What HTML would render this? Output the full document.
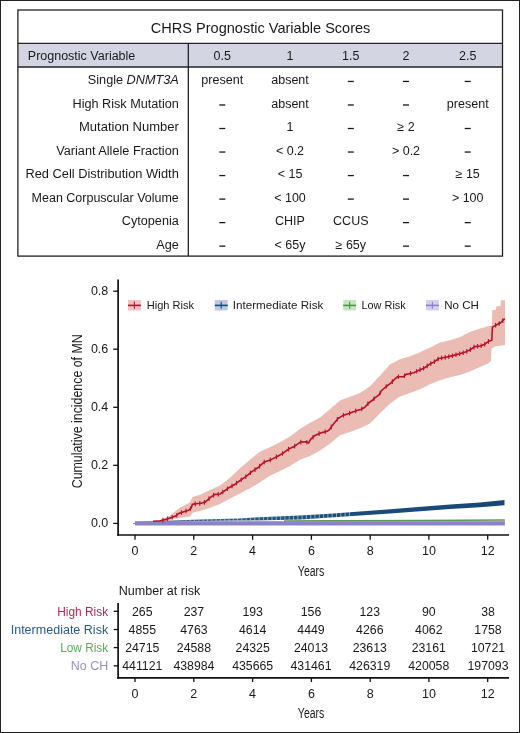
<!DOCTYPE html>
<html><head><meta charset="utf-8"><style>
html,body{margin:0;padding:0;background:#fff;}
svg{display:block;font-family:"Liberation Sans", sans-serif;will-change:transform;}
</style></head><body>
<svg width="520" height="733" viewBox="0 0 520 733">
<rect x="0.5" y="0.5" width="519" height="732" fill="none" stroke="#222" stroke-width="1"/>
<rect x="17.9" y="43.3" width="484.6" height="23.700000000000003" fill="#d3d5e3"/>
<rect x="17.9" y="10.0" width="484.6" height="246.10000000000002" fill="none" stroke="#222" stroke-width="1.3"/>
<line x1="17.9" y1="43.3" x2="502.5" y2="43.3" stroke="#222" stroke-width="1.3"/>
<line x1="17.9" y1="67.0" x2="502.5" y2="67.0" stroke="#222" stroke-width="1.3"/>
<line x1="188.3" y1="43.3" x2="188.3" y2="256.1" stroke="#222" stroke-width="1.3"/>
<text x="260.6" y="32.5" font-size="15" text-anchor="middle" fill="#1a1a1a" textLength="219.6" lengthAdjust="spacingAndGlyphs">CHRS Prognostic Variable Scores</text>
<text x="27.8" y="59.8" font-size="12.5" fill="#1a1a1a" textLength="107.5" lengthAdjust="spacingAndGlyphs">Prognostic Variable</text>
<text x="222.3" y="59.8" font-size="12.5" text-anchor="middle" fill="#1a1a1a">0.5</text>
<text x="290.0" y="59.8" font-size="12.5" text-anchor="middle" fill="#1a1a1a">1</text>
<text x="350.8" y="59.8" font-size="12.5" text-anchor="middle" fill="#1a1a1a">1.5</text>
<text x="406.0" y="59.8" font-size="12.5" text-anchor="middle" fill="#1a1a1a">2</text>
<text x="467.7" y="59.8" font-size="12.5" text-anchor="middle" fill="#1a1a1a">2.5</text>
<text x="178.8" y="84.0" font-size="12.5" text-anchor="end" fill="#1a1a1a" textLength="91" lengthAdjust="spacingAndGlyphs">Single <tspan font-style="italic">DNMT3A</tspan></text>
<text x="222.3" y="84.0" font-size="12.5" text-anchor="middle" fill="#1a1a1a" textLength="42" lengthAdjust="spacingAndGlyphs">present</text>
<text x="290.0" y="84.0" font-size="12.5" text-anchor="middle" fill="#1a1a1a">absent</text>
<rect x="347.8" y="80.80" width="6" height="1.3" fill="#1a1a1a"/>
<rect x="403.0" y="80.80" width="6" height="1.3" fill="#1a1a1a"/>
<rect x="464.7" y="80.80" width="6" height="1.3" fill="#1a1a1a"/>
<text x="178.8" y="107.53" font-size="12.5" text-anchor="end" fill="#1a1a1a" textLength="106.3" lengthAdjust="spacingAndGlyphs">High Risk Mutation</text>
<rect x="219.3" y="104.33" width="6" height="1.3" fill="#1a1a1a"/>
<text x="290.0" y="107.53" font-size="12.5" text-anchor="middle" fill="#1a1a1a">absent</text>
<rect x="347.8" y="104.33" width="6" height="1.3" fill="#1a1a1a"/>
<rect x="403.0" y="104.33" width="6" height="1.3" fill="#1a1a1a"/>
<text x="467.7" y="107.53" font-size="12.5" text-anchor="middle" fill="#1a1a1a" textLength="42" lengthAdjust="spacingAndGlyphs">present</text>
<text x="178.8" y="131.06" font-size="12.5" text-anchor="end" fill="#1a1a1a" textLength="99.8" lengthAdjust="spacingAndGlyphs">Mutation Number</text>
<rect x="219.3" y="127.86" width="6" height="1.3" fill="#1a1a1a"/>
<text x="290.0" y="131.06" font-size="12.5" text-anchor="middle" fill="#1a1a1a">1</text>
<rect x="347.8" y="127.86" width="6" height="1.3" fill="#1a1a1a"/>
<text x="406.0" y="131.06" font-size="12.5" text-anchor="middle" fill="#1a1a1a">&#8805; 2</text>
<rect x="464.7" y="127.86" width="6" height="1.3" fill="#1a1a1a"/>
<text x="178.8" y="154.59" font-size="12.5" text-anchor="end" fill="#1a1a1a" textLength="122.6" lengthAdjust="spacingAndGlyphs">Variant Allele Fraction</text>
<rect x="219.3" y="151.39" width="6" height="1.3" fill="#1a1a1a"/>
<text x="290.0" y="154.59" font-size="12.5" text-anchor="middle" fill="#1a1a1a">&lt; 0.2</text>
<rect x="347.8" y="151.39" width="6" height="1.3" fill="#1a1a1a"/>
<text x="406.0" y="154.59" font-size="12.5" text-anchor="middle" fill="#1a1a1a">&gt; 0.2</text>
<rect x="464.7" y="151.39" width="6" height="1.3" fill="#1a1a1a"/>
<text x="178.8" y="178.12" font-size="12.5" text-anchor="end" fill="#1a1a1a" textLength="153.4" lengthAdjust="spacingAndGlyphs">Red Cell Distribution Width</text>
<rect x="219.3" y="174.92" width="6" height="1.3" fill="#1a1a1a"/>
<text x="290.0" y="178.12" font-size="12.5" text-anchor="middle" fill="#1a1a1a">&lt; 15</text>
<rect x="347.8" y="174.92" width="6" height="1.3" fill="#1a1a1a"/>
<rect x="403.0" y="174.92" width="6" height="1.3" fill="#1a1a1a"/>
<text x="467.7" y="178.12" font-size="12.5" text-anchor="middle" fill="#1a1a1a">&#8805; 15</text>
<text x="178.8" y="201.65" font-size="12.5" text-anchor="end" fill="#1a1a1a" textLength="147.2" lengthAdjust="spacingAndGlyphs">Mean Corpuscular Volume</text>
<rect x="219.3" y="198.45" width="6" height="1.3" fill="#1a1a1a"/>
<text x="290.0" y="201.65" font-size="12.5" text-anchor="middle" fill="#1a1a1a">&lt; 100</text>
<rect x="347.8" y="198.45" width="6" height="1.3" fill="#1a1a1a"/>
<rect x="403.0" y="198.45" width="6" height="1.3" fill="#1a1a1a"/>
<text x="467.7" y="201.65" font-size="12.5" text-anchor="middle" fill="#1a1a1a">&gt; 100</text>
<text x="178.8" y="225.18" font-size="12.5" text-anchor="end" fill="#1a1a1a" textLength="57" lengthAdjust="spacingAndGlyphs">Cytopenia</text>
<rect x="219.3" y="221.98" width="6" height="1.3" fill="#1a1a1a"/>
<text x="290.0" y="225.18" font-size="12.5" text-anchor="middle" fill="#1a1a1a">CHIP</text>
<text x="350.8" y="225.18" font-size="12.5" text-anchor="middle" fill="#1a1a1a">CCUS</text>
<rect x="403.0" y="221.98" width="6" height="1.3" fill="#1a1a1a"/>
<rect x="464.7" y="221.98" width="6" height="1.3" fill="#1a1a1a"/>
<text x="178.8" y="248.71" font-size="12.5" text-anchor="end" fill="#1a1a1a" textLength="22.6" lengthAdjust="spacingAndGlyphs">Age</text>
<rect x="219.3" y="245.51" width="6" height="1.3" fill="#1a1a1a"/>
<text x="290.0" y="248.71" font-size="12.5" text-anchor="middle" fill="#1a1a1a">&lt; 65y</text>
<text x="350.8" y="248.71" font-size="12.5" text-anchor="middle" fill="#1a1a1a">&#8805; 65y</text>
<rect x="403.0" y="245.51" width="6" height="1.3" fill="#1a1a1a"/>
<rect x="464.7" y="245.51" width="6" height="1.3" fill="#1a1a1a"/>
<line x1="118.1" y1="279.5" x2="118.1" y2="535.8" stroke="#111" stroke-width="1.7"/>
<line x1="117.3" y1="535.0" x2="509" y2="535.0" stroke="#111" stroke-width="1.7"/>
<line x1="113.2" y1="523.4" x2="118.1" y2="523.4" stroke="#111" stroke-width="1.3"/>
<text x="108.3" y="527.4" font-size="12.5" text-anchor="end" fill="#1a1a1a">0.0</text>
<line x1="113.2" y1="465.3" x2="118.1" y2="465.3" stroke="#111" stroke-width="1.3"/>
<text x="108.3" y="469.3" font-size="12.5" text-anchor="end" fill="#1a1a1a">0.2</text>
<line x1="113.2" y1="407.3" x2="118.1" y2="407.3" stroke="#111" stroke-width="1.3"/>
<text x="108.3" y="411.3" font-size="12.5" text-anchor="end" fill="#1a1a1a">0.4</text>
<line x1="113.2" y1="349.2" x2="118.1" y2="349.2" stroke="#111" stroke-width="1.3"/>
<text x="108.3" y="353.2" font-size="12.5" text-anchor="end" fill="#1a1a1a">0.6</text>
<line x1="113.2" y1="291.2" x2="118.1" y2="291.2" stroke="#111" stroke-width="1.3"/>
<text x="108.3" y="295.2" font-size="12.5" text-anchor="end" fill="#1a1a1a">0.8</text>
<line x1="135.0" y1="535.0" x2="135.0" y2="539.8" stroke="#111" stroke-width="1.3"/>
<text x="135.0" y="555.0" font-size="12.5" text-anchor="middle" fill="#1a1a1a">0</text>
<line x1="193.8" y1="535.0" x2="193.8" y2="539.8" stroke="#111" stroke-width="1.3"/>
<text x="193.8" y="555.0" font-size="12.5" text-anchor="middle" fill="#1a1a1a">2</text>
<line x1="252.6" y1="535.0" x2="252.6" y2="539.8" stroke="#111" stroke-width="1.3"/>
<text x="252.6" y="555.0" font-size="12.5" text-anchor="middle" fill="#1a1a1a">4</text>
<line x1="311.4" y1="535.0" x2="311.4" y2="539.8" stroke="#111" stroke-width="1.3"/>
<text x="311.4" y="555.0" font-size="12.5" text-anchor="middle" fill="#1a1a1a">6</text>
<line x1="370.2" y1="535.0" x2="370.2" y2="539.8" stroke="#111" stroke-width="1.3"/>
<text x="370.2" y="555.0" font-size="12.5" text-anchor="middle" fill="#1a1a1a">8</text>
<line x1="428.9" y1="535.0" x2="428.9" y2="539.8" stroke="#111" stroke-width="1.3"/>
<text x="428.9" y="555.0" font-size="12.5" text-anchor="middle" fill="#1a1a1a">10</text>
<line x1="487.7" y1="535.0" x2="487.7" y2="539.8" stroke="#111" stroke-width="1.3"/>
<text x="487.7" y="555.0" font-size="12.5" text-anchor="middle" fill="#1a1a1a">12</text>
<text x="311.1" y="575.5" font-size="14" text-anchor="middle" fill="#1a1a1a" textLength="26.5" lengthAdjust="spacingAndGlyphs">Years</text>
<g transform="translate(82.3,411.3) rotate(-90)"><text x="0" y="0" font-size="14" text-anchor="middle" fill="#1a1a1a" textLength="154" lengthAdjust="spacingAndGlyphs">Cumulative incidence of MN</text></g>
<polygon points="158.0,521.5 165.0,518.0 170.0,515.4 180.0,507.7 190.0,502.3 192.5,497.0 200.0,494.8 210.0,490.0 220.0,485.4 230.0,477.7 240.0,468.3 250.0,459.8 260.0,451.5 270.0,447.3 280.0,442.3 290.0,436.5 300.0,429.0 310.0,422.7 320.0,417.6 330.0,409.3 340.0,400.5 350.0,396.7 360.0,392.9 370.0,386.2 380.0,375.5 390.0,364.6 400.0,359.3 410.0,356.3 420.0,352.2 430.0,347.5 440.0,342.4 450.0,340.3 460.0,337.0 470.0,332.1 480.0,328.6 488.0,326.3 491.8,325.4 492.2,310.1 496.0,309.8 496.3,306.2 500.5,306.0 500.8,300.3 505.0,300.3 505.0,345.0 496.0,346.2 491.5,348.6 491.0,361.0 488.0,363.4 480.0,366.9 470.0,371.6 460.0,375.0 450.0,377.2 440.0,380.2 430.0,384.3 420.0,389.3 410.0,393.1 400.0,396.4 390.0,403.5 380.0,413.2 370.0,423.5 360.0,428.2 350.0,432.0 340.0,435.2 330.0,443.7 320.0,450.4 310.0,456.1 300.0,459.8 290.0,466.0 280.0,470.9 270.0,475.8 260.0,482.3 250.0,488.3 240.0,493.4 230.0,498.6 220.0,503.9 210.0,507.8 200.0,511.0 193.0,512.4 190.0,516.4 180.0,517.9 170.0,519.8 160.0,523.0" fill="#ebbcb3"/>
<defs><linearGradient id="bg" gradientUnits="userSpaceOnUse" x1="135" y1="0" x2="505" y2="0"><stop offset="0" stop-color="#4d7393"/><stop offset="0.3" stop-color="#2a5a82"/><stop offset="0.55" stop-color="#1b4c7c"/><stop offset="1" stop-color="#174777"/></linearGradient></defs>
<polygon points="135.0,521.9 160.0,521.0 200.0,519.6 240.0,518.4 250.0,517.8 300.0,515.6 330.0,513.8 390.0,509.2 450.0,504.4 480.0,502.5 504.5,500.1 504.5,505.3 480.0,507.3 450.0,509.0 390.0,513.4 330.0,517.6 300.0,519.4 250.0,520.5 240.0,520.6 200.0,521.1 160.0,522.2 135.0,523.1" fill="url(#bg)"/>
<path d="M186.0 519.8v2.0M190.3 519.7v2.1M194.6 519.5v2.1M198.9 519.4v2.1M203.2 519.2v2.2M207.5 519.1v2.2M211.8 519.0v2.3M216.1 518.8v2.4M220.4 518.7v2.5M224.7 518.6v2.5M229.0 518.4v2.6M233.3 518.3v2.7M237.6 518.2v2.8M241.9 518.0v2.9M246.2 517.7v3.1M250.5 517.4v3.3M254.8 517.2v3.4M259.1 517.1v3.5M263.4 516.9v3.6M267.7 516.7v3.7M272.0 516.5v3.8M276.3 516.3v3.9M280.6 516.1v4.0M284.9 515.9v4.1M289.2 515.8v4.2M293.5 515.6v4.3M297.8 515.4v4.4M302.1 515.2v4.4M306.4 514.9v4.4M310.7 514.7v4.4M315.0 514.4v4.4M319.3 514.1v4.4M323.6 513.9v4.4M327.9 513.6v4.4M332.2 513.3v4.4M336.5 513.0v4.4M340.8 512.7v4.5M345.1 512.3v4.5M349.4 512.0v4.5" stroke="#c4d3e2" stroke-width="0.9" stroke-opacity="0.75" fill="none"/>
<polyline points="284.0,521.0 330.0,520.8 420.0,520.5 504.8,520.1" fill="none" stroke="#5c9a5a" stroke-width="1.5"/>
<rect x="134.9" y="521.2" width="370" height="4.3" fill="#8c83c5"/>
<line x1="133" y1="523.5" x2="135" y2="523.5" stroke="#8d84c7" stroke-width="1"/>
<polyline points="153.0,521.2 160.0,520.8 165.8,519.4 171.5,517.6 176.2,515.8 178.5,513.5 183.1,511.9 188.8,510.2 191.2,507.9 192.3,504.4 195.8,503.8 200.8,503.3 205.0,502.3 209.6,498.1 214.2,494.6 220.0,494.0 228.1,488.3 235.0,484.2 239.6,480.8 246.5,476.2 251.2,472.1 258.1,467.5 263.8,462.3 271.5,459.4 277.3,456.5 283.1,453.1 288.8,449.0 294.6,446.2 300.4,442.1 306.2,441.8 308.5,443.0 310.8,439.2 315.4,435.2 320.8,432.9 326.5,431.5 329.2,430.0 332.3,425.4 336.2,420.8 338.1,418.5 342.7,415.6 349.6,413.3 355.4,411.0 361.2,409.2 364.6,407.5 368.1,403.5 372.7,400.0 374.6,398.1 379.2,394.6 381.5,390.6 386.2,386.5 390.8,383.1 395.4,378.5 397.7,376.7 403.5,376.7 405.8,374.4 413.8,372.7 418.5,370.4 424.2,368.1 429.6,364.2 434.2,361.9 438.8,358.5 445.8,357.3 452.7,355.6 459.6,353.8 465.4,352.1 471.2,349.2 474.6,346.6 480.4,346.0 484.2,344.6 488.6,341.3 491.8,340.2 492.4,327.1 496.2,325.0 500.6,322.8 503.9,319.5 505.0,318.9" fill="none" stroke="#b8122a" stroke-width="1.6" stroke-linejoin="round"/>
<path d="M163.0 517.8v4.6M167.6 516.5v4.6M172.2 515.0v4.6M176.8 512.9v4.6M181.4 510.2v4.6M186.0 508.7v4.6M190.6 506.2v4.6M195.2 501.6v4.6M199.8 501.1v4.6M204.4 500.1v4.6M209.0 496.3v4.6M213.6 492.8v4.6M218.2 491.9v4.6M222.8 489.7v4.6M227.4 486.5v4.6M232.0 483.7v4.6M236.6 480.7v4.6M241.2 477.4v4.6M245.8 474.4v4.6M250.4 470.5v4.6M255.0 467.3v4.6M259.6 463.8v4.6M264.2 459.8v4.6M270.3 457.6v4.6M276.4 454.6v4.6M282.5 451.2v4.6M288.6 446.8v4.6M294.7 443.8v4.6M300.8 439.8v4.6M306.9 439.9v4.6M313.0 435.0v4.6M319.1 431.3v4.6M325.2 429.5v4.6M331.3 424.6v4.6M337.4 417.0v4.6M343.5 413.0v4.6M349.6 411.0v4.6M355.7 408.6v4.6M361.8 406.6v4.6M367.9 401.4v4.6M374.0 396.4v4.6M380.1 390.7v4.6M386.2 384.2v4.6M392.3 379.3v4.6M398.4 374.4v4.6M404.5 373.4v4.6M410.6 371.1v4.6M416.7 369.0v4.6M420.0 367.5v4.6M423.6 366.0v4.6M427.2 363.6v4.6M430.8 361.3v4.6M434.4 359.5v4.6M438.0 356.8v4.6M441.6 355.7v4.6M445.2 355.1v4.6M448.8 354.3v4.6M452.4 353.4v4.6M456.0 352.4v4.6M459.6 351.5v4.6M463.2 350.4v4.6M466.8 349.1v4.6M470.4 347.3v4.6M474.0 344.8v4.6M477.6 344.0v4.6M481.2 343.4v4.6M484.8 341.8v4.6M488.4 339.1v4.6M495.6 323.0v4.6M499.2 321.2v4.6M502.8 318.3v4.6" stroke="#b8122a" stroke-width="1.1" fill="none"/>
<rect x="128" y="300" width="12.9" height="10.5" fill="#f2c2c2"/><line x1="128" y1="305.4" x2="140.9" y2="305.4" stroke="#b5142b" stroke-width="1.6"/><line x1="134.4" y1="301.7" x2="134.4" y2="308.8" stroke="#b5142b" stroke-width="1.1"/><text x="146.7" y="308.6" font-size="11.2" fill="#1a1a1a" textLength="47.3" lengthAdjust="spacingAndGlyphs">High Risk</text>
<rect x="214.8" y="300" width="12.9" height="10.5" fill="#bfc8dc"/><line x1="214.8" y1="305.4" x2="227.70000000000002" y2="305.4" stroke="#174a7e" stroke-width="1.6"/><line x1="221.20000000000002" y1="301.7" x2="221.20000000000002" y2="308.8" stroke="#174a7e" stroke-width="1.1"/><text x="232.8" y="308.6" font-size="11.2" fill="#1a1a1a" textLength="90.5" lengthAdjust="spacingAndGlyphs">Intermediate Risk</text>
<rect x="343.2" y="300" width="12.9" height="10.5" fill="#c6e4c0"/><line x1="343.2" y1="305.4" x2="356.09999999999997" y2="305.4" stroke="#4a9a46" stroke-width="1.6"/><line x1="349.59999999999997" y1="301.7" x2="349.59999999999997" y2="308.8" stroke="#4a9a46" stroke-width="1.1"/><text x="361.4" y="308.6" font-size="11.2" fill="#1a1a1a" textLength="44.4" lengthAdjust="spacingAndGlyphs">Low Risk</text>
<rect x="426" y="300" width="12.9" height="10.5" fill="#d2d0ec"/><line x1="426" y1="305.4" x2="438.9" y2="305.4" stroke="#8c84c6" stroke-width="1.6"/><line x1="432.4" y1="301.7" x2="432.4" y2="308.8" stroke="#8c84c6" stroke-width="1.1"/><text x="444.2" y="308.6" font-size="11.2" fill="#1a1a1a" textLength="34.6" lengthAdjust="spacingAndGlyphs">No CH</text>
<text x="118.7" y="595.1" font-size="12.5" fill="#1a1a1a" textLength="81.7" lengthAdjust="spacingAndGlyphs">Number at risk</text>
<line x1="118.1" y1="603" x2="118.1" y2="678.6999999999999" stroke="#111" stroke-width="1.7"/>
<line x1="117.3" y1="677.9" x2="509" y2="677.9" stroke="#111" stroke-width="1.7"/>
<line x1="113.7" y1="611.3" x2="118.1" y2="611.3" stroke="#111" stroke-width="1.3"/>
<text x="108.2" y="615.7" font-size="12.5" text-anchor="end" fill="#b52a50" textLength="51" lengthAdjust="spacingAndGlyphs">High Risk</text>
<text x="142.3" y="615.7" font-size="12.3" text-anchor="middle" fill="#1a1a1a">265</text>
<text x="193.9" y="615.7" font-size="12.3" text-anchor="middle" fill="#1a1a1a">237</text>
<text x="252.7" y="615.7" font-size="12.3" text-anchor="middle" fill="#1a1a1a">193</text>
<text x="311.0" y="615.7" font-size="12.3" text-anchor="middle" fill="#1a1a1a">156</text>
<text x="369.8" y="615.7" font-size="12.3" text-anchor="middle" fill="#1a1a1a">123</text>
<text x="428.8" y="615.7" font-size="12.3" text-anchor="middle" fill="#1a1a1a">90</text>
<text x="488.0" y="615.7" font-size="12.3" text-anchor="middle" fill="#1a1a1a">38</text>
<line x1="113.7" y1="629.5" x2="118.1" y2="629.5" stroke="#111" stroke-width="1.3"/>
<text x="108.2" y="633.85" font-size="12.5" text-anchor="end" fill="#2d5a8a" textLength="97.5" lengthAdjust="spacingAndGlyphs">Intermediate Risk</text>
<text x="142.3" y="633.85" font-size="12.3" text-anchor="middle" fill="#1a1a1a">4855</text>
<text x="193.9" y="633.85" font-size="12.3" text-anchor="middle" fill="#1a1a1a">4763</text>
<text x="252.7" y="633.85" font-size="12.3" text-anchor="middle" fill="#1a1a1a">4614</text>
<text x="311.0" y="633.85" font-size="12.3" text-anchor="middle" fill="#1a1a1a">4449</text>
<text x="369.8" y="633.85" font-size="12.3" text-anchor="middle" fill="#1a1a1a">4266</text>
<text x="428.8" y="633.85" font-size="12.3" text-anchor="middle" fill="#1a1a1a">4062</text>
<text x="488.0" y="633.85" font-size="12.3" text-anchor="middle" fill="#1a1a1a">1758</text>
<line x1="113.7" y1="647.6" x2="118.1" y2="647.6" stroke="#111" stroke-width="1.3"/>
<text x="108.2" y="652.0" font-size="12.5" text-anchor="end" fill="#58ad58" textLength="48" lengthAdjust="spacingAndGlyphs">Low Risk</text>
<text x="142.3" y="652.0" font-size="12.3" text-anchor="middle" fill="#1a1a1a">24715</text>
<text x="193.9" y="652.0" font-size="12.3" text-anchor="middle" fill="#1a1a1a">24588</text>
<text x="252.7" y="652.0" font-size="12.3" text-anchor="middle" fill="#1a1a1a">24325</text>
<text x="311.0" y="652.0" font-size="12.3" text-anchor="middle" fill="#1a1a1a">24013</text>
<text x="369.8" y="652.0" font-size="12.3" text-anchor="middle" fill="#1a1a1a">23613</text>
<text x="428.8" y="652.0" font-size="12.3" text-anchor="middle" fill="#1a1a1a">23161</text>
<text x="488.0" y="652.0" font-size="12.3" text-anchor="middle" fill="#1a1a1a">10721</text>
<line x1="113.7" y1="665.8" x2="118.1" y2="665.8" stroke="#111" stroke-width="1.3"/>
<text x="108.2" y="670.15" font-size="12.5" text-anchor="end" fill="#9494ba" textLength="37.5" lengthAdjust="spacingAndGlyphs">No CH</text>
<text x="142.3" y="670.15" font-size="12.3" text-anchor="middle" fill="#1a1a1a">441121</text>
<text x="193.9" y="670.15" font-size="12.3" text-anchor="middle" fill="#1a1a1a">438984</text>
<text x="252.7" y="670.15" font-size="12.3" text-anchor="middle" fill="#1a1a1a">435665</text>
<text x="311.0" y="670.15" font-size="12.3" text-anchor="middle" fill="#1a1a1a">431461</text>
<text x="369.8" y="670.15" font-size="12.3" text-anchor="middle" fill="#1a1a1a">426319</text>
<text x="428.8" y="670.15" font-size="12.3" text-anchor="middle" fill="#1a1a1a">420058</text>
<text x="488.0" y="670.15" font-size="12.3" text-anchor="middle" fill="#1a1a1a">197093</text>
<line x1="135.0" y1="677.9" x2="135.0" y2="682" stroke="#111" stroke-width="1.3"/>
<text x="135.0" y="698.4" font-size="12.5" text-anchor="middle" fill="#1a1a1a">0</text>
<line x1="193.8" y1="677.9" x2="193.8" y2="682" stroke="#111" stroke-width="1.3"/>
<text x="193.8" y="698.4" font-size="12.5" text-anchor="middle" fill="#1a1a1a">2</text>
<line x1="252.6" y1="677.9" x2="252.6" y2="682" stroke="#111" stroke-width="1.3"/>
<text x="252.6" y="698.4" font-size="12.5" text-anchor="middle" fill="#1a1a1a">4</text>
<line x1="311.4" y1="677.9" x2="311.4" y2="682" stroke="#111" stroke-width="1.3"/>
<text x="311.4" y="698.4" font-size="12.5" text-anchor="middle" fill="#1a1a1a">6</text>
<line x1="370.2" y1="677.9" x2="370.2" y2="682" stroke="#111" stroke-width="1.3"/>
<text x="370.2" y="698.4" font-size="12.5" text-anchor="middle" fill="#1a1a1a">8</text>
<line x1="428.9" y1="677.9" x2="428.9" y2="682" stroke="#111" stroke-width="1.3"/>
<text x="428.9" y="698.4" font-size="12.5" text-anchor="middle" fill="#1a1a1a">10</text>
<line x1="487.7" y1="677.9" x2="487.7" y2="682" stroke="#111" stroke-width="1.3"/>
<text x="487.7" y="698.4" font-size="12.5" text-anchor="middle" fill="#1a1a1a">12</text>
<text x="311.1" y="718.0" font-size="14" text-anchor="middle" fill="#1a1a1a" textLength="26.5" lengthAdjust="spacingAndGlyphs">Years</text>
</svg>
</body></html>
